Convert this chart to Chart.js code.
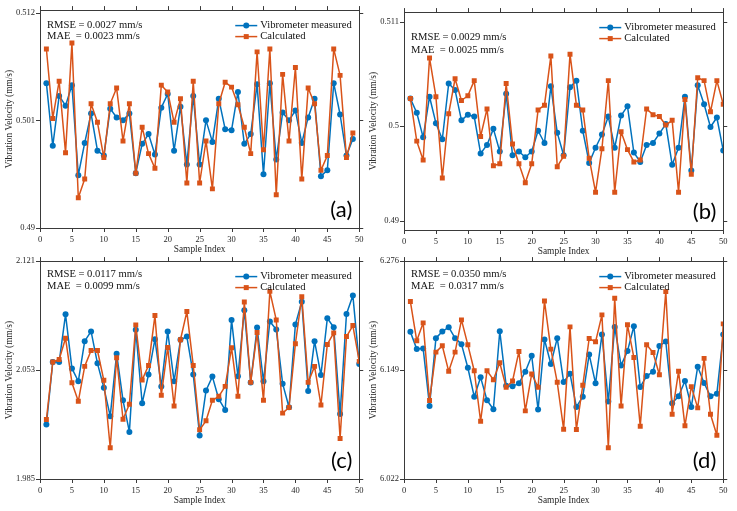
<!DOCTYPE html>
<html>
<head>
<meta charset="utf-8">
<script src="https://cdn.jsdelivr.net/npm/chart.js@4.4.1/dist/chart.umd.min.js"></script>
<style>
  html, body { margin: 0; padding: 0; background: #fff; }
  #fig { position: relative; width: 737px; height: 511px; overflow: hidden; }
  #fig canvas { position: absolute; }
</style>
</head>
<body>
<div id="fig">
  <canvas id="chartA" width="370" height="256" style="left:0px;top:0px"></canvas>
  <canvas id="chartB" width="370" height="256" style="left:364px;top:2px"></canvas>
  <canvas id="chartC" width="370" height="256" style="left:0px;top:251px"></canvas>
  <canvas id="chartD" width="370" height="256" style="left:364px;top:251px"></canvas>
</div>
<script>
// values
const xTicks = [0, 5, 10, 15, 20, 25, 30, 35, 40, 45, 50];

const measuredA = [0.5048, 0.4984, 0.5035, 0.5025, 0.5046, 0.4954, 0.4987, 0.5017, 0.4979, 0.4974,
  0.5022, 0.5013, 0.5010, 0.5017, 0.4956, 0.4986, 0.4996, 0.4975, 0.5023, 0.5037,
  0.4979, 0.5024, 0.4965, 0.5035, 0.4965, 0.5010, 0.4988, 0.5032, 0.5001, 0.5000,
  0.5039, 0.4986, 0.4996, 0.5047, 0.4955, 0.5048, 0.4970, 0.5018, 0.5010, 0.5020,
  0.4987, 0.5013, 0.5032, 0.4953, 0.4959, 0.5048, 0.5016, 0.4974, 0.4991];
const calculatedA = [0.5083, 0.5012, 0.5050, 0.4977, 0.5089, 0.4931, 0.4950, 0.5027, 0.5008, 0.4972,
  0.5027, 0.5043, 0.4989, 0.5027, 0.4956, 0.5003, 0.4976, 0.4961, 0.5046, 0.5039,
  0.5008, 0.5032, 0.4946, 0.5050, 0.4946, 0.4989, 0.4940, 0.5027, 0.5049, 0.5044,
  0.5026, 0.5003, 0.4976, 0.5080, 0.4980, 0.5083, 0.4934, 0.5057, 0.4989, 0.5064,
  0.4950, 0.5043, 0.5027, 0.4959, 0.4974, 0.5083, 0.5056, 0.4972, 0.4997];

const measuredB = [0.5029, 0.5014, 0.4988, 0.5031, 0.5003, 0.4986, 0.5045, 0.5038, 0.5006, 0.5012,
  0.5010, 0.4971, 0.4980, 0.4997, 0.4973, 0.5034, 0.4969, 0.4973, 0.4967, 0.4973,
  0.4995, 0.4982, 0.5042, 0.4993, 0.4969, 0.5041, 0.5048, 0.4995, 0.4961, 0.4977,
  0.4991, 0.5010, 0.4977, 0.5011, 0.5021, 0.4972, 0.4962, 0.4980, 0.4982, 0.4992,
  0.5002, 0.4959, 0.4977, 0.5031, 0.4953, 0.5043, 0.5023, 0.4999, 0.5009, 0.4974];
const calculatedB = [0.5029, 0.4984, 0.4964, 0.5072, 0.5031, 0.4945, 0.5013, 0.5050, 0.5027, 0.5032,
  0.5048, 0.4989, 0.5018, 0.4958, 0.4960, 0.5045, 0.4981, 0.4960, 0.4940, 0.4960,
  0.5017, 0.5022, 0.5074, 0.4957, 0.4968, 0.5076, 0.5022, 0.5017, 0.4966, 0.4930,
  0.4976, 0.5048, 0.4930, 0.4994, 0.4975, 0.4962, 0.4964, 0.5018, 0.5012, 0.5010,
  0.5001, 0.5006, 0.4930, 0.5028, 0.4949, 0.5051, 0.5048, 0.5015, 0.5048, 0.5023];

const measuredC = [2.0190, 2.0580, 2.0580, 2.0878, 2.0540, 2.0460, 2.0710, 2.0771, 2.0572, 2.0420,
  2.0242, 2.0632, 2.0341, 2.0144, 2.0781, 2.0323, 2.0503, 2.0723, 2.0428, 2.0771,
  2.0460, 2.0719, 2.0739, 2.0503, 2.0122, 2.0402, 2.0489, 2.0348, 2.0281, 2.0843,
  2.0491, 2.0903, 2.0453, 2.0795, 2.0460, 2.0833, 2.0783, 2.0445, 2.0298, 2.0814,
  2.0957, 2.0399, 2.0710, 2.0499, 2.0853, 2.0797, 2.0256, 2.0880, 2.0996, 2.0567];
const calculatedC = [2.0221, 2.0580, 2.0596, 2.0729, 2.0451, 2.0335, 2.0553, 2.0652, 2.0652, 2.0466,
  2.0045, 2.0607, 2.0223, 2.0317, 2.0812, 2.0468, 2.0559, 2.0870, 2.0373, 2.0671,
  2.0306, 2.0719, 2.0895, 2.0559, 2.0157, 2.0213, 2.0341, 2.0366, 2.0428, 2.0669,
  2.0366, 2.0955, 2.0453, 2.0764, 2.0341, 2.1021, 2.0843, 2.0261, 2.0296, 2.0694,
  2.0988, 2.0453, 2.0553, 2.0312, 2.0690, 2.0762, 2.0103, 2.0739, 2.0808, 2.0584];

const measuredD = [6.1935, 6.1734, 6.1742, 6.1072, 6.1862, 6.1939, 6.1990, 6.1862, 6.1792, 6.1517,
  6.1180, 6.1405, 6.1138, 6.1033, 6.1943, 6.1308, 6.1300, 6.1335, 6.1471, 6.1657,
  6.1029, 6.1846, 6.1560, 6.1862, 6.1351, 6.1448, 6.1060, 6.1180, 6.1672, 6.1335,
  6.1904, 6.1122, 6.1993, 6.1544, 6.1711, 6.2001, 6.1293, 6.1420, 6.1471, 6.1769,
  6.1823, 6.1103, 6.1184, 6.1362, 6.1060, 6.1529, 6.1339, 6.1184, 6.1215, 6.1904];
const calculatedD = [6.2288, 6.1831, 6.2040, 6.1134, 6.1699, 6.1773, 6.1475, 6.1699, 6.2075, 6.1784,
  6.1482, 6.0894, 6.1482, 6.1378, 6.1575, 6.1289, 6.1362, 6.1707, 6.1014, 6.1444,
  6.1289, 6.2295, 6.1734, 6.1347, 6.0801, 6.1993, 6.0797, 6.1312, 6.1858, 6.1819,
  6.2133, 6.0584, 6.2326, 6.1072, 6.2017, 6.1637, 6.0836, 6.1784, 6.1695, 6.1436,
  6.2404, 6.0975, 6.1475, 6.0840, 6.1297, 6.1049, 6.1626, 6.0975, 6.0731, 6.2028];

const yTicksA = [0.49, 0.501, 0.512];
const yTicksB = [0.49, 0.5, 0.511];
const yTicksC = [1.985, 2.053, 2.121];
const yTicksD = [6.022, 6.149, 6.276];

const statsA = ['RMSE = 0.0027 mm/s', 'MAE  = 0.0023 mm/s'];
const statsB = ['RMSE = 0.0029 mm/s', 'MAE  = 0.0025 mm/s'];
const statsC = ['RMSE = 0.0117 mm/s', 'MAE  = 0.0099 mm/s'];
const statsD = ['RMSE = 0.0350 mm/s', 'MAE  = 0.0317 mm/s'];

const BLUE = '#0072BD';
const ORANGE = '#D95319';
const SERIF = '"Liberation Serif", "Times New Roman", serif';

// box, outward ticks, legend, stats text and panel letter
const framePlugin = {
  id: 'frame',
  afterDraw(chart, args, o) {
    const ctx = chart.ctx;
    const a = chart.chartArea;
    const xs = chart.scales.x, ys = chart.scales.y;
    ctx.save();
    ctx.strokeStyle = '#3a3a3a';
    ctx.lineWidth = 1;
    ctx.strokeRect(Math.round(a.left) + 0.5, Math.round(a.top) + 0.5,
      Math.round(a.right - a.left), Math.round(a.bottom - a.top));
    ctx.beginPath();
    xs.ticks.forEach(t => {
      const px = Math.round(xs.getPixelForValue(t.value)) + 0.5;
      ctx.moveTo(px, a.top); ctx.lineTo(px, a.top - 4);
      ctx.moveTo(px, a.bottom); ctx.lineTo(px, a.bottom + 4);
    });
    ys.ticks.forEach(t => {
      const py = Math.round(ys.getPixelForValue(t.value)) + 0.5;
      ctx.moveTo(a.left, py); ctx.lineTo(a.left - 4, py);
      ctx.moveTo(a.right, py); ctx.lineTo(a.right + 4, py);
    });
    ctx.stroke();

    // statistics text
    ctx.fillStyle = '#111';
    ctx.font = '10.6px ' + SERIF;
    ctx.textAlign = 'left';
    ctx.textBaseline = 'middle';
    o.stats.forEach((s, i) => ctx.fillText(s, a.left + 7, a.top + o.statsY[i]));

    // legend
    chart.data.datasets.forEach((ds, i) => {
      const y = a.top + o.legendY[i];
      ctx.strokeStyle = ds.borderColor;
      ctx.lineWidth = 1.5;
      ctx.beginPath();
      ctx.moveTo(a.right - 124, y); ctx.lineTo(a.right - 102, y);
      ctx.stroke();
      ctx.fillStyle = ds.borderColor;
      if (ds.pointStyle === 'rect') {
        ctx.fillRect(a.right - 115.5, y - 2.5, 5, 5);
      } else {
        ctx.beginPath(); ctx.arc(a.right - 113, y, 3, 0, Math.PI * 2); ctx.fill();
      }
      ctx.fillStyle = '#111';
      ctx.fillText(ds.label, a.right - 99, y);
    });

    // panel letter
    ctx.font = '22px Lato, "Open Sans", sans-serif';
    ctx.textAlign = 'right';
    ctx.textBaseline = 'alphabetic';
    ctx.fillStyle = '#000';
    ctx.fillText(o.label, a.right - 7, a.bottom - 11);
    ctx.restore();
  }
};

function makePanel(id, measured, calculated, yTicks, yMin, yMax, stats, statsY, label) {
  new Chart(document.getElementById(id), {
    type: 'line',
    data: {
      datasets: [{
        label: 'Vibrometer measured',
        data: measured.map((v, i) => ({ x: i + 1, y: v })),
        borderColor: BLUE,
        backgroundColor: BLUE,
        borderWidth: 1.5,
        borderJoinStyle: 'round',
        pointStyle: 'circle',
        pointRadius: 3,
        pointBorderWidth: 0,
        order: 1
      }, {
        label: 'Calculated',
        data: calculated.map((v, i) => ({ x: i + 1, y: v })),
        borderColor: ORANGE,
        backgroundColor: ORANGE,
        borderWidth: 1.5,
        borderJoinStyle: 'round',
        pointStyle: 'rect',
        pointRadius: 3.5,
        pointBorderWidth: 0,
        order: 0
      }]
    },
    options: {
      responsive: false,
      animation: false,
      devicePixelRatio: 1,
      layout: { padding: { top: 8, right: 6, left: 0, bottom: 0 } },
      plugins: {
        legend: { display: false },
        tooltip: { enabled: false },
        frame: { stats: stats, statsY: statsY, legendY: [15.5, 26.5], label: label }
      },
      scales: {
        x: {
          type: 'linear', min: 0, max: 50,
          afterBuildTicks: s => { s.ticks = xTicks.map(v => ({ value: v })); },
          afterFit: s => { s.height = 28; },
          grid: { display: false, drawTicks: false },
          border: { display: false },
          ticks: { padding: 6.5, color: '#262626', maxRotation: 0, autoSkip: false,
            font: { family: SERIF, size: 8.5 } },
          title: { display: true, text: 'Sample Index', color: '#262626',
            font: { family: SERIF, size: 9.4 }, padding: { top: 0, bottom: 0.5 } }
        },
        y: {
          min: yMin, max: yMax,
          afterBuildTicks: s => { s.ticks = yTicks.map(v => ({ value: v })); },
          afterFit: s => { s.width = 40; },
          grid: { display: false, drawTicks: false },
          border: { display: false },
          ticks: { padding: 5, color: '#262626', callback: v => String(v),
            font: { family: SERIF, size: 8.5 } },
          title: { display: true, text: 'Vibration Velocity (mm/s)', color: '#262626',
            font: { family: SERIF, size: 9.4 }, padding: { top: 3.5, bottom: 0 } }
        }
      }
    },
    plugins: [framePlugin]
  });
}

makePanel('chartA', measuredA, calculatedA, yTicksA, 0.49, 0.51227, statsA, [15, 26], '(a)');
makePanel('chartB', measuredB, calculatedB, yTicksB, 0.489, 0.51205, statsB, [25, 38], '(b)');
makePanel('chartC', measuredC, calculatedC, yTicksC, 1.985, 2.121, statsC, [13.5, 25], '(c)');
makePanel('chartD', measuredD, calculatedD, yTicksD, 6.022, 6.276, statsD, [13.5, 25], '(d)');
</script>
</body>
</html>
